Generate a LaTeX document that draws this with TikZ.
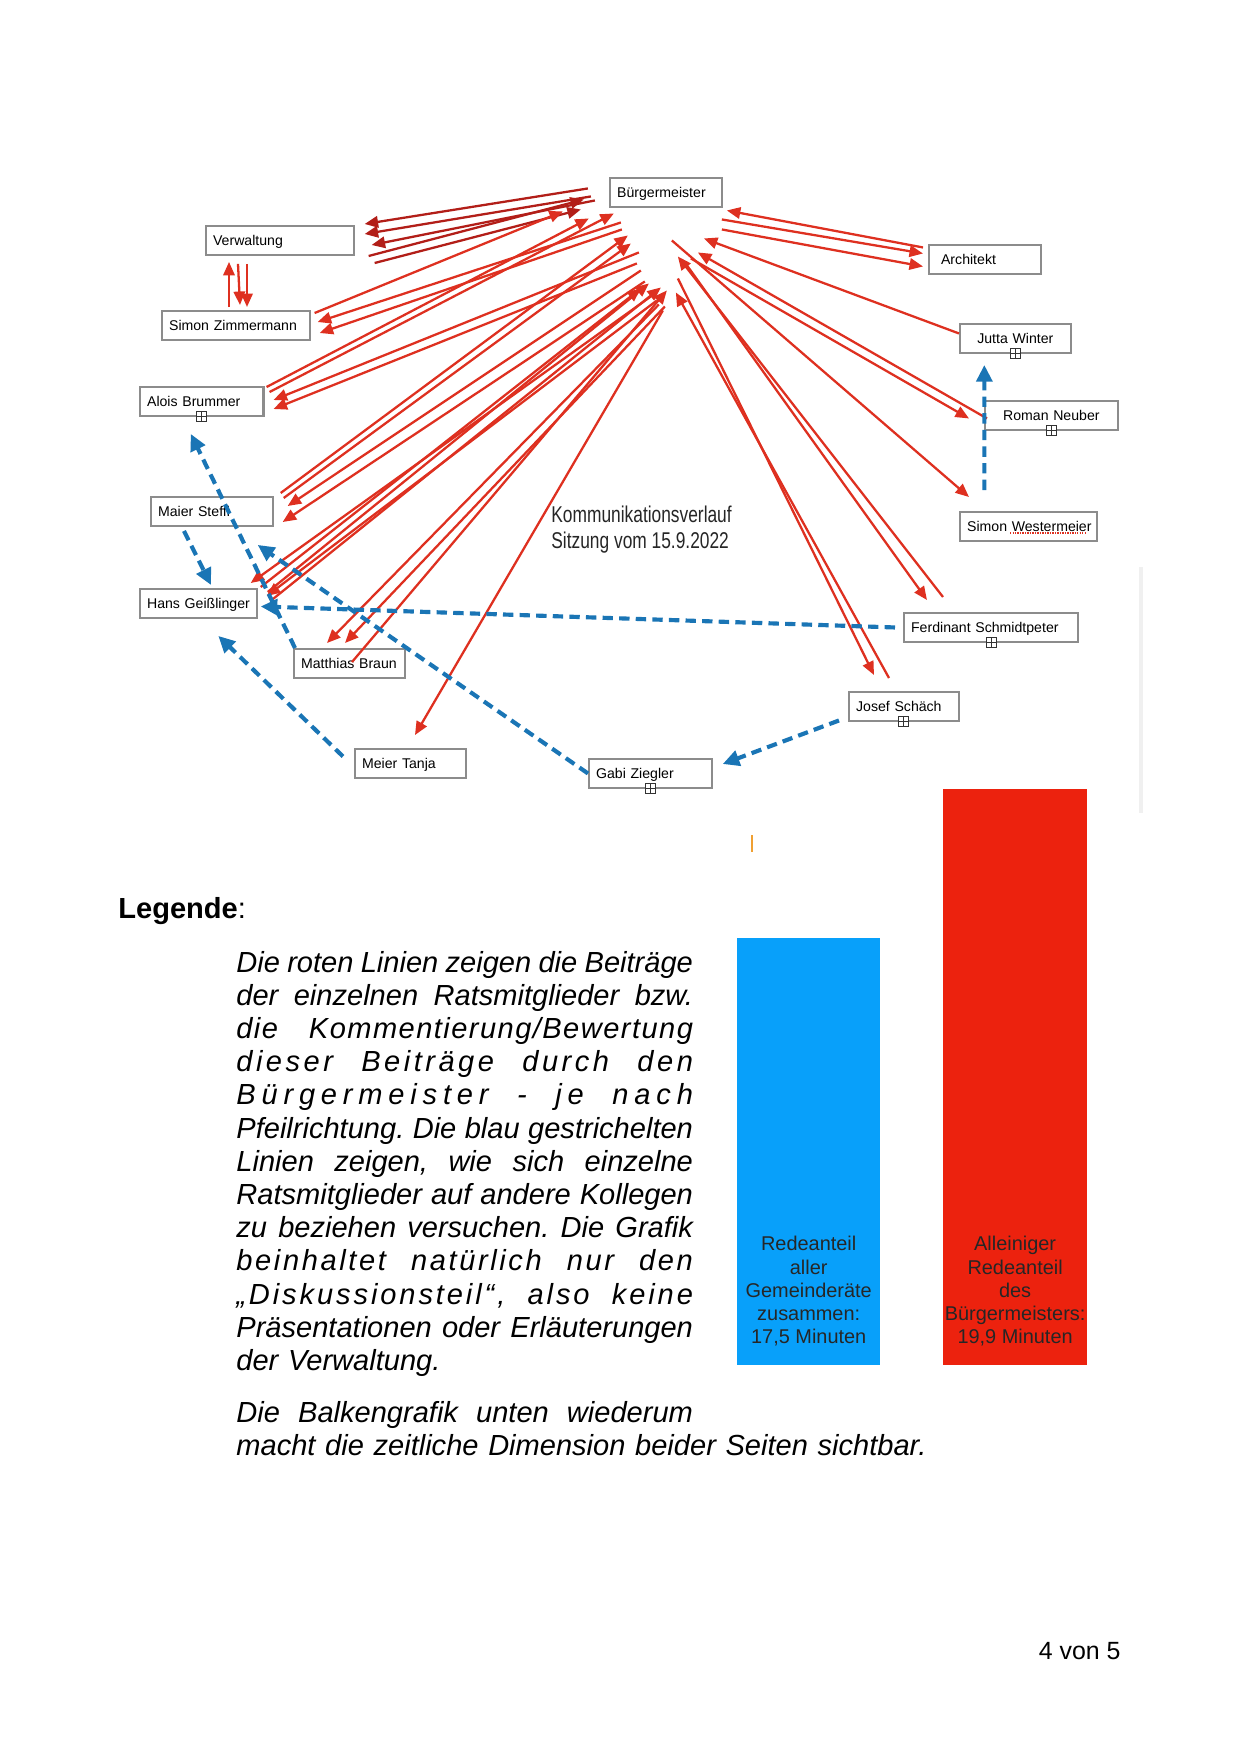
\documentclass[tikz,border=0pt]{standalone}
\usepackage{fontspec}
\usepackage{graphicx}
\setmainfont{Liberation Sans}
\usetikzlibrary{arrows.meta,positioning}

\definecolor{linered}{RGB}{222,48,32}
\definecolor{linedark}{RGB}{178,30,24}
\definecolor{dashblue}{RGB}{26,117,181}
\definecolor{boxgray}{RGB}{140,140,140}
\definecolor{barblue}{RGB}{8,160,250}
\definecolor{barred}{RGB}{236,34,14}
\definecolor{tickorange}{RGB}{240,160,50}

% one justified line of the legend, optional letter spacing
\newcommand{\jline}[2][0]{\hbox to 220pt{\addfontfeature{LetterSpace=#1}\frenchspacing
  \spaceskip=\fontdimen2\font plus 1fil minus \fontdimen4\font\relax #2}}

\begin{document}
\begin{tikzpicture}[x=0.16935mm,y=-0.16935mm,
    namebox/.style={draw=boxgray,line width=1pt,anchor=north west,inner xsep=3.4pt,inner ysep=0pt,
      minimum height=13.9pt,text height=5pt,text depth=0pt,align=left,font=\fontsize{6.8}{8}\selectfont},
    plusbox/.style={draw=black!80,fill=white,line width=0.45pt,inner sep=0pt,minimum size=4.8pt,
      path picture={\draw[line width=0.45pt] (path picture bounding box.north) -- (path picture bounding box.south)
        (path picture bounding box.west) -- (path picture bounding box.east);}},
    redln/.style={draw=linered,line width=1.1pt,-{Triangle[length=6.5pt,width=5.5pt]}},
    darkln/.style={redln,draw=linedark},
    blueln/.style={draw=dashblue,line width=2pt,dash pattern=on 5pt off 3pt,-{Triangle[length=8pt,width=7.5pt]}},
    bar/.style={anchor=south west,inner sep=0pt,minimum width=#1},
    bartext/.style={inner sep=0pt,align=center,text depth=0pt,text=black!85,font=\fontsize{9.6}{11.2}\selectfont}]
  \useasboundingbox (0,0) rectangle (1240,1754);

  % Name boxes
  \node[namebox,text width=47pt] (bm) at (609,177) {Bürgermeister};
  \node[namebox,text width=64.3pt] (verw) at (205,225) {Verwaltung};
  \node[namebox,text width=47pt] (arch) at (928,244) {\hspace*{2.4pt}Architekt};
  \node[namebox,text width=64.3pt] (simz) at (161,310) {\mbox{Simon Zimmermann}};
  \node[namebox,text width=46.5pt,align=center] (jutta) at (959,323) {Jutta~Winter};
  \node[namebox,text width=52.7pt] (alois) at (139,386) {Alois~Brummer};
  \node[namebox,text width=57.1pt,align=center] (roman) at (984,400) {Roman~Neuber};
  \node[namebox,text width=51.8pt] (steffi) at (150,496) {Maier~Steffi};
  \node[namebox,text width=59pt] (westerm) at (959,511) {\mbox{Simon Westermeier}};
  \node[namebox,text width=49.4pt] (hans) at (139,588) {\mbox{Hans Geißlinger}};
  \node[namebox,text width=77.2pt] (ferd) at (903,612) {\mbox{Ferdinant Schmidtpeter}};
  \node[namebox,text width=46.5pt] (matth) at (293,648) {\mbox{Matthias Braun}};
  \node[namebox,text width=46pt] (josef) at (848,691) {Josef~Schäch};
  \node[namebox,text width=46.5pt] (tanja) at (354,748) {Meier~Tanja};
  \node[namebox,text width=52.3pt] (gabi) at (588,758) {Gabi~Ziegler};
  \foreach \n in {jutta,alois,roman,ferd,josef,gabi}
    \node[plusbox] (\n-plus) at (\n.south) {};
  \draw[linered,line width=0.6pt,dash pattern=on 0.6pt off 0.6pt]
    ([shift={(51,22)}]westerm.north west) -- ([shift={(128,22)}]westerm.north west);

  % Title
  \node[anchor=base west,inner sep=0pt,font=\fontsize{11}{13}\selectfont,text=black!85] (title) at (551,522)
    {\scalebox{0.76}[1]{Kommunikationsverlauf}};
  \node[anchor=base west,inner sep=0pt,font=\fontsize{11}{13}\selectfont,text=black!85] (date) at (551,548)
    {\scalebox{0.76}[1]{Sitzung vom 15.9.2022}};

  % Verwaltung <-> Simon Zimmermann
  \draw[redln] ([shift={(68,-3)}]simz.north west) -- ([shift={(24,6)}]verw.south west);
  \draw[redln] ([shift={(33,8)}]verw.south west) -- ([shift={(79,-5)}]simz.north west);
  \draw[redln] ([shift={(42,8)}]verw.south west) -- ([shift={(86,-3)}]simz.north west);

  % Red lines, left side
  \foreach \ax/\ay/\bx/\by in {-78/-4/10/-1, -75/4/10/9, -71/8/17/20}
    \draw[darkln] ([shift={(\ax,\ay)}]bm.center) -- ([shift={(\bx,\by)}]verw.north east);
  \foreach \ax/\ay/\bx/\by in {14/31/-82/7, 20/38/-85/17}
    \draw[darkln] ([shift={(\ax,\ay)}]verw.north east) -- ([shift={(\bx,\by)}]bm.center);
  \foreach \ax/\ay/\bx/\by in {4/3/-103/19}
    \draw[redln] ([shift={(\ax,\ay)}]simz.north east) -- ([shift={(\bx,\by)}]bm.center);
  \foreach \ax/\ay/\bx/\by in {-45/30/7/12, -44/37/9/23}
    \draw[redln] ([shift={(\ax,\ay)}]bm.center) -- ([shift={(\bx,\by)}]simz.north east);
  \foreach \ax/\ay/\bx/\by in {2/1/-77/26, 5/6/-52/21}
    \draw[redln] ([shift={(\ax,\ay)}]alois.north east) -- ([shift={(\bx,\by)}]bm.center);
  \foreach \ax/\ay/\bx/\by in {-27/60/9/14, -29/71/9/23}
    \draw[redln] ([shift={(\ax,\ay)}]bm.center) -- ([shift={(\bx,\by)}]alois.north east);
  \foreach \ax/\ay/\bx/\by in {7/-3/-38/43, 10/2/-35/51}
    \draw[redln] ([shift={(\ax,\ay)}]steffi.north east) -- ([shift={(\bx,\by)}]bm.center);
  \foreach \ax/\ay/\bx/\by in {-25/78/14/10, -21/89/9/26}
    \draw[redln] ([shift={(\ax,\ay)}]bm.center) -- ([shift={(\bx,\by)}]steffi.north east);
  \foreach \ax/\ay/\bx/\by in {3/-1/-25/96, 10/4/-17/91, 14/12/-5/95}
    \draw[redln] ([shift={(\ax,\ay)}]hans.north east) -- ([shift={(\bx,\by)}]bm.center);
  \foreach \ax/\ay/\bx/\by in {-15/104/-7/-5, -9/108/9/8}
    \draw[redln] ([shift={(\ax,\ay)}]bm.center) -- ([shift={(\bx,\by)}]hans.north east);
  \draw[redln] ([shift={(59,14)}]matth.north west) -- ([shift={(1,98)}]bm.center);
  \foreach \ax/\ay/\bx/\by in {-7/112/34/-5, -1/114/52/-5}
    \draw[redln] ([shift={(\ax,\ay)}]bm.center) -- ([shift={(\bx,\by)}]matth.north west);
  \draw[redln] ([shift={(-3,118)}]bm.center) -- ([shift={(61,-13)}]tanja.north west);

  % Red lines, right side
  \draw[redln] ([shift={(-5,-12)}]arch.west) -- ([shift={(61,18)}]bm.center);
  \foreach \ax/\ay/\bx/\by in {56/27/-5/-6, 56/37/-5/7}
    \draw[redln] ([shift={(\ax,\ay)}]bm.center) -- ([shift={(\bx,\by)}]arch.west);
  \draw[redln] ([shift={(0,-5)}]jutta.west) -- ([shift={(38,46)}]bm.center);
  \draw[redln] ([shift={(3,3)}]roman.west) -- ([shift={(32,60)}]bm.center);
  \draw[redln] ([shift={(25,66)}]bm.center) -- ([shift={(-15,3)}]roman.west);
  \draw[redln] ([shift={(6,48)}]bm.center) -- ([shift={(10,-14)}]westerm.north west);
  \draw[redln] ([shift={(19,70)}]bm.center) -- ([shift={(24,-12)}]ferd.north west);
  \draw[redln] ([shift={(40,-15)}]ferd.north west) -- ([shift={(12,64)}]bm.center);
  \draw[redln] ([shift={(12,86)}]bm.center) -- ([shift={(26,-16)}]josef.north west);
  \draw[redln] ([shift={(41,-13)}]josef.north west) -- ([shift={(10,100)}]bm.center);

  % Blue dashed lines
  \draw[blueln] ([shift={(2,0)}]matth.north west) -- ([shift={(-11,17)}]alois.south);
  \draw[blueln] ([shift={(34,4)}]steffi.south west) -- ([shift={(72,-3)}]hans.north west);
  \draw[blueln] (gabi.west) -- ([shift={(-16,18)}]steffi.south east);
  \draw[blueln] ([shift={(-8,0)}]ferd.west) -- ([shift={(3,3)}]hans.east);
  \draw[blueln] ([shift={(-11,-7)}]tanja.west) -- ([shift={(20,17)}]hans.south);
  \draw[blueln] ([shift={(-9,14)}]josef.west) -- ([shift={(10,6)}]gabi.north east);
  \draw[blueln] ([shift={(-44,-21)}]westerm.north) -- ([shift={(-31,11)}]jutta.south);

  % Page edge and small marks
  \draw[black!6,line width=2pt] (1141,567) -- (1141,813);
  \draw[tickorange,line width=1.2pt] (752,835) -- (752,852);

  % Legend
  \node[anchor=base west,inner sep=0pt,font=\fontsize{14}{16}\selectfont] (legend) at (118,918)
    {\textbf{Legende}:};
  \node[anchor=base west,inner sep=0pt,text width=220pt,font=\fontsize{14}{16}\selectfont\itshape] (legtext) at (236,972) {%
    \jline{Die roten Linien zeigen die Beiträge}
    \jline{der einzelnen Ratsmitglieder bzw.}
    \jline[5]{die Kommentierung/Bewertung}
    \jline[12]{dieser Beiträge durch den}
    \jline[20]{Bürgermeister - je nach}
    \jline{Pfeilrichtung. Die blau gestrichelten}
    \jline{Linien zeigen, wie sich einzelne}
    \jline{Ratsmitglieder auf andere Kollegen}
    \jline{zu beziehen versuchen. Die Grafik}
    \jline[9]{beinhaltet natürlich nur den}
    \jline[10]{„Diskussionsteil“, also keine}
    \jline{Präsentationen oder Erläuterungen}
    \hbox{der Verwaltung.}
    \vskip 9pt
    \jline{Die Balkengrafik unten wiederum}
    \hbox{macht die zeitliche Dimension beider Seiten sichtbar.}};

  % Bars
  \node[bar=68.7pt,minimum height=205.5pt,fill=barblue] (bluebar) at (737,1365) {};
  \node[bar=69.1pt,minimum height=277.5pt,fill=barred] (redbar) at (943,1365) {};
  \node[bartext,above=10pt of bluebar.south] (bluetxt)
    {Redeanteil\\aller\\Gemeinderäte\\zusammen:\\17,5 Minuten};
  \node[bartext,above=10pt of redbar.south] (redtxt)
    {Alleiniger\\Redeanteil\\des\\Bürgermeisters:\\19,9 Minuten};

  % Page number
  \node[anchor=base east,inner sep=0pt,font=\fontsize{12}{14}\selectfont] (page) at (1121,1659) {4 von 5};
\end{tikzpicture}
\end{document}
